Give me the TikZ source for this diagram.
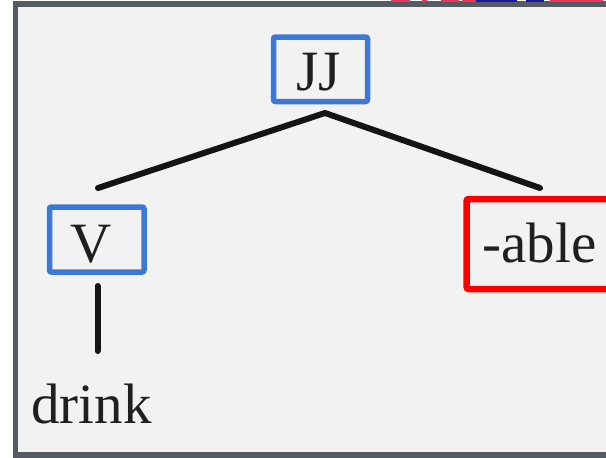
\documentclass[tikz,border=0pt]{standalone}
\usepackage{fontspec}
\setmainfont{Liberation Serif}
\definecolor{frame}{HTML}{545B63}
\definecolor{panel}{HTML}{F2F2F2}
\definecolor{boxblue}{HTML}{3C78D8}
\definecolor{boxred}{HTML}{FF0000}
\definecolor{flagred}{HTML}{E8365A}
\definecolor{flagblue}{HTML}{1A1AA0}
\tikzset{
  tagbox/.style={draw=boxblue, line width=5.5pt, rounded corners=2pt, inner sep=0pt, outer sep=0pt, anchor=north west},
  affixbox/.style={draw=boxred, line width=6.5pt, rounded corners=2pt, inner sep=0pt, outer sep=0pt, anchor=north west},
  word/.style={inner sep=0pt, anchor=base, font=\fontsize{57}{60}\selectfont, text=black!88},
  branch/.style={line width=6pt, line cap=round, line join=round, black!92}
}
\begin{document}
\begin{tikzpicture}[x=1pt,y=-1pt]
\useasboundingbox (0,0) rectangle (606,458);
\begin{scope}
\clip (0,0) rectangle (606,458);
\fill[white] (0,0) rectangle (606,458);
\fill[frame] (13,1) rectangle (650,458);
\fill[panel] (18,7) rectangle (650,452);
% thin coloured strip at the top edge
\fill[flagred] (391,0) rectangle (410,1.5);
\fill[flagred] (422,0) rectangle (427,1.5);
\fill[flagred] (441,0) rectangle (459,1.5);
\fill[flagred] (462,0) rectangle (476,1.5);
\fill[flagblue] (476,0) rectangle (517,1.5);
\fill[flagblue] (526,0) rectangle (544,1.5);
\fill[flagred] (550,0) rectangle (603,1.5);
% boxes
\node[tagbox, minimum width=94pt, minimum height=64.5pt] (JJbox) at (273.5,37) {};
\node[tagbox, minimum width=94.5pt, minimum height=65pt] (Vbox) at (49.5,207) {};
\node[affixbox, minimum width=170pt, minimum height=90pt] (ablebox) at (466.7,199) {};
% words
\node[word] (JJ) at (319,90) {JJ};
\node[word] (V) at (91,262) {V};
\node[word] (able) at (539.5,262) {-able};
\node[word] (drink) at (91.5,423) {drink};
% branch points
\coordinate (apex) at (325,113);
\coordinate (leftend) at (98,188);
\coordinate (rightend) at (540,188);
\coordinate (vtop) at (97.5,286);
\coordinate (vbot) at (97.5,351);
\draw[branch] (leftend) -- (apex) -- (rightend);
\draw[branch] (vtop) -- (vbot);
\end{scope}
\end{tikzpicture}
\end{document}
